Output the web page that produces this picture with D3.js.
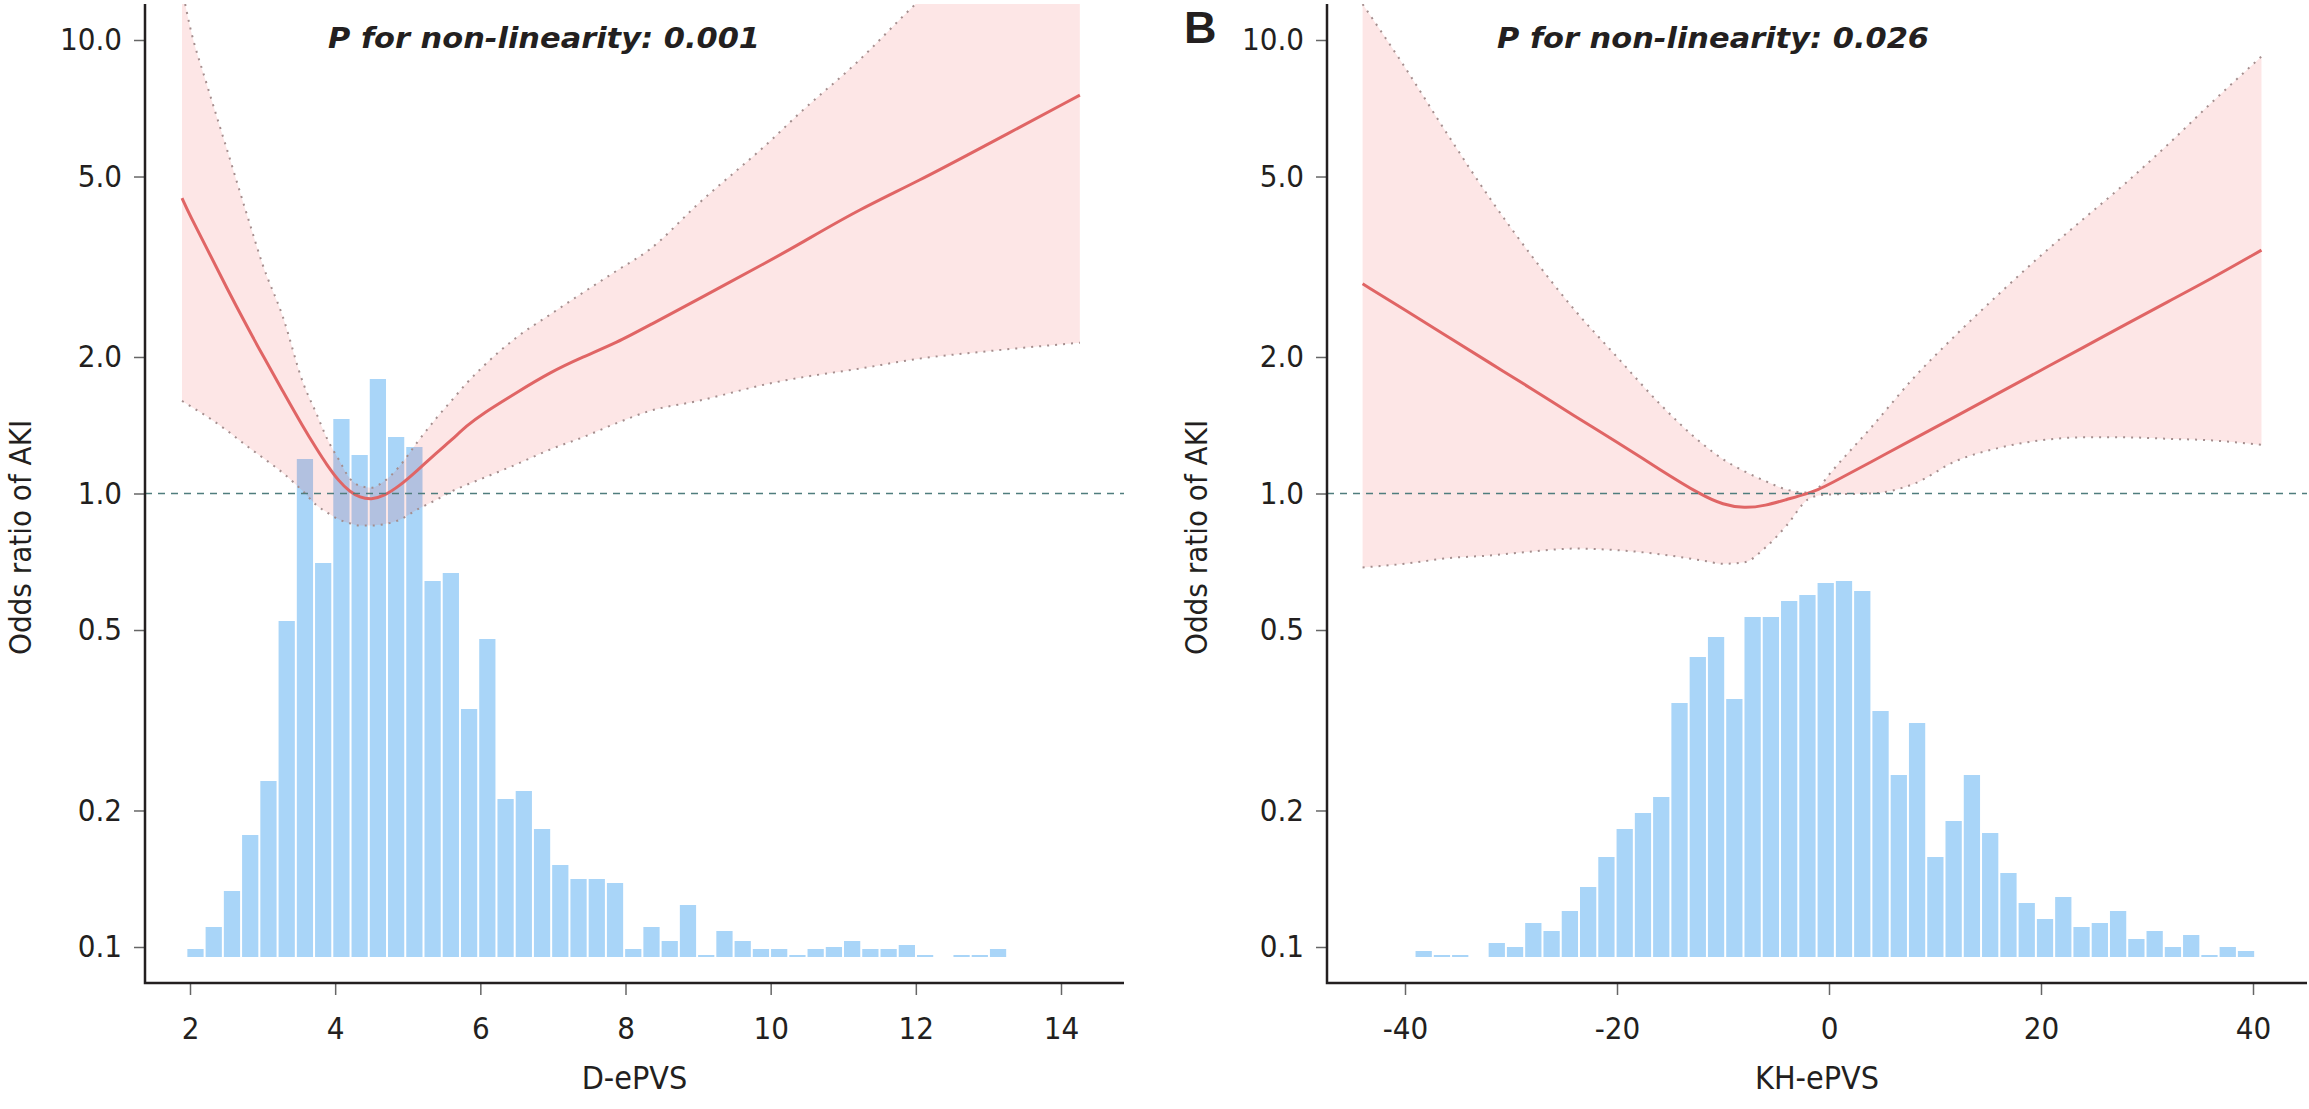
<!DOCTYPE html>
<html>
<head>
<meta charset="utf-8">
<script src="https://cdn.jsdelivr.net/npm/d3@7"></script>
<style>
  body { margin: 0; background: #fff; }
  text { font-family: "DejaVu Sans Condensed", "DejaVu Sans", sans-serif; fill: #231f20; }
</style>
</head>
<body>
<script>
const width = 2309;
const height = 1109;

// ---- Panel A: D-ePVS ----
const dGrid = [1.89, 2.0, 2.23, 2.5, 2.82, 3.0, 3.28, 3.56, 3.75, 3.88, 4.06, 4.2, 4.34, 4.5, 4.66, 4.89, 5.12, 5.4, 5.6, 5.81, 6.03, 6.5, 6.96, 7.41, 7.88, 8.33, 9, 10, 10.4, 11.18, 12.02, 13, 14.26];
const dFit = [4.48, 4.1, 3.48, 2.85, 2.28, 2.02, 1.68, 1.4, 1.25, 1.16, 1.06, 1.01, 0.98, 0.97, 0.985, 1.04, 1.12, 1.23, 1.31, 1.41, 1.5, 1.67, 1.85, 2.0, 2.15, 2.35, 2.68, 3.27, 3.55, 4.2, 4.87, 5.9, 7.56];
const dUpper = [13, 10.7, 8.0, 5.8, 3.95, 3.2, 2.45, 1.75, 1.49, 1.33, 1.18, 1.08, 1.04, 1.03, 1.06, 1.15, 1.29, 1.47, 1.6, 1.75, 1.9, 2.21, 2.48, 2.77, 3.1, 3.45, 4.35, 6.0, 6.9, 8.9, 12.1, 16.5, 25];
const dLower = [1.6, 1.56, 1.48, 1.38, 1.26, 1.2, 1.11, 1.01, 0.94, 0.91, 0.875, 0.86, 0.85, 0.85, 0.855, 0.875, 0.92, 0.97, 1.01, 1.045, 1.08, 1.16, 1.25, 1.33, 1.43, 1.52, 1.6, 1.75, 1.8, 1.88, 1.98, 2.06, 2.15];
const dBinStart = 1.95;
const dBinWidth = 0.2513;
const dCounts = [4, 15, 33, 61, 88, 168, 249, 197, 269, 251, 289, 260, 255, 188, 192, 124, 159, 79, 83, 64, 46, 39, 39, 37, 4, 15, 8, 26, 1, 13, 8, 4, 4, 1, 4, 5, 8, 4, 4, 6, 1, 0, 1, 1, 4];
const dTicks = [2, 4, 6, 8, 10, 12, 14];

// ---- Panel B: KH-ePVS ----
const kGrid = [-44, -40, -36, -32, -28, -24, -20, -16, -12, -10, -8, -6, -4, -2, -1, 0, 4, 8, 12, 16, 20, 24, 28, 32, 36, 40.8];
const kFit = [2.9, 2.54, 2.22, 1.94, 1.7, 1.48, 1.3, 1.13, 0.99, 0.945, 0.927, 0.94, 0.97, 1.0, 1.02, 1.047, 1.175, 1.32, 1.48, 1.665, 1.87, 2.1, 2.36, 2.65, 2.97, 3.44];
const kUpper = [12.0, 8.7, 6.2, 4.48, 3.33, 2.54, 2.0, 1.58, 1.29, 1.19, 1.12, 1.065, 1.02, 1.005, 1.03, 1.1, 1.4, 1.8, 2.24, 2.75, 3.35, 4.03, 4.84, 5.89, 7.24, 9.2];
const kLower = [0.687, 0.7, 0.72, 0.73, 0.745, 0.756, 0.75, 0.735, 0.712, 0.7, 0.705, 0.76, 0.85, 0.97, 0.99, 0.995, 1.0, 1.05, 1.18, 1.26, 1.31, 1.33, 1.33, 1.32, 1.31, 1.28];
const kBinStart = -39.1;
const kBinWidth = 1.724;
const kCounts = [3, 1, 1, 0, 7, 5, 17, 13, 23, 35, 50, 64, 72, 80, 127, 150, 160, 129, 170, 170, 178, 181, 187, 188, 183, 123, 91, 117, 50, 68, 91, 62, 42, 27, 19, 30, 15, 17, 23, 9, 13, 5, 11, 1, 5, 3];
const kTicks = [-40, -20, 0, 20, 40];

const yTicks = [0.1, 0.2, 0.5, 1, 2, 5, 10];

const svg = d3.select('body')
    .append('svg')
    .attr('width', width)
    .attr('height', height);

// shared log scale for odds ratio
const y = d3.scaleLog().domain([0.1, 10]).range([947, 40]);
const plotTop = 4;
const plotBottom = 983;
const histBase = y(0.1) + 10;
const hist = d3.scaleLinear().domain([0, 300]).range([histBase, histBase - 600]);

const panels = [
    { id: 'a', grid: dGrid, fit: dFit, hi: dUpper, lo: dLower, binStart: dBinStart, binWidth: dBinWidth,
      counts: dCounts, ticks: dTicks, xDomain: [2, 14], xRange: [190, 1061], left: 145, right: 1124,
      title: 'D-ePVS', pText: 'P for non-linearity: 0.001', pX: 328, yTitleX: 31, tag: null },
    { id: 'b', grid: kGrid, fit: kFit, hi: kUpper, lo: kLower, binStart: kBinStart, binWidth: kBinWidth,
      counts: kCounts, ticks: kTicks, xDomain: [-40, 40], xRange: [1405, 2253], left: 1327, right: 2307,
      title: 'KH-ePVS', pText: 'P for non-linearity: 0.026', pX: 1497, yTitleX: 1207, tag: 'B' }
];

panels.forEach(p => {
    const x = d3.scaleLinear().domain(p.xDomain).range(p.xRange);
    const g = svg.append('g');

    g.append('clipPath').attr('id', 'clip-' + p.id)
        .append('rect')
        .attr('x', p.left).attr('y', plotTop)
        .attr('width', p.right - p.left).attr('height', plotBottom - plotTop);

    const plot = g.append('g').attr('clip-path', `url(#clip-${p.id})`);

    // histogram
    plot.append('g')
        .selectAll('rect')
        .data(p.counts)
        .enter()
        .append('rect')
        .attr('x', (d, i) => x(p.binStart + i * p.binWidth) + 1)
        .attr('width', (d, i) => x(p.binStart + (i + 1) * p.binWidth) - x(p.binStart + i * p.binWidth) - 2)
        .attr('y', d => hist(d))
        .attr('height', d => histBase - hist(d))
        .attr('fill', '#a9d5f8');

    const pts = p.grid.map((v, i) => ({ x: v, fit: p.fit[i], hi: p.hi[i], lo: p.lo[i] }));

    // confidence band
    plot.append('path')
        .datum(pts)
        .attr('d', d3.area()
            .x(d => x(d.x))
            .y0(d => y(d.lo))
            .y1(d => y(d.hi))
            .curve(d3.curveMonotoneX))
        .attr('fill', '#f03c3c')
        .attr('fill-opacity', 0.13);

    ['hi', 'lo'].forEach(k => {
        plot.append('path')
            .datum(pts)
            .attr('d', d3.line().x(d => x(d.x)).y(d => y(d[k])).curve(d3.curveMonotoneX))
            .attr('fill', 'none')
            .attr('stroke', '#a48e8e')
            .attr('stroke-width', 2)
            .attr('stroke-dasharray', '2,6');
    });

    // reference line at OR = 1
    g.append('line')
        .attr('x1', p.left).attr('x2', p.right)
        .attr('y1', y(1)).attr('y2', y(1))
        .attr('stroke', '#4f7d7d')
        .attr('stroke-width', 1.6)
        .attr('stroke-dasharray', '7,6');

    // fitted curve
    plot.append('path')
        .datum(pts)
        .attr('d', d3.line().x(d => x(d.x)).y(d => y(d.fit)).curve(d3.curveBasis))
        .attr('fill', 'none')
        .attr('stroke', '#e06565')
        .attr('stroke-width', 3);

    // axes
    const yAxis = g.append('g')
        .attr('transform', `translate(${p.left},0)`)
        .call(d3.axisLeft(y).tickValues(yTicks).tickFormat(d3.format('.1f')).tickSize(11).tickPadding(12));
    yAxis.select('.domain').remove();
    yAxis.selectAll('line').attr('stroke', '#666').attr('stroke-width', 1.5);
    yAxis.selectAll('text').attr('font-size', 31).style('fill', '#231f20');

    const xAxis = g.append('g')
        .attr('transform', `translate(0,${plotBottom})`)
        .call(d3.axisBottom(x).tickValues(p.ticks).tickFormat(d => String(d)).tickSize(12).tickPadding(22));
    xAxis.select('.domain').remove();
    xAxis.selectAll('line').attr('stroke', '#666').attr('stroke-width', 1.5);
    xAxis.selectAll('text').attr('font-size', 31).style('fill', '#231f20');

    g.append('path')
        .attr('d', `M${p.left},${plotTop}V${plotBottom}H${p.right}`)
        .attr('fill', 'none')
        .attr('stroke', '#231f20')
        .attr('stroke-width', 2.5);

    // titles
    g.append('text')
        .attr('x', (p.left + p.right) / 2)
        .attr('y', 1089)
        .attr('text-anchor', 'middle')
        .attr('font-size', 32)
        .text(p.title);

    g.append('text')
        .attr('transform', `translate(${p.yTitleX},${y(0.8)}) rotate(-90)`)
        .attr('text-anchor', 'middle')
        .attr('font-size', 31)
        .text('Odds ratio of AKI');

    g.append('text')
        .attr('x', p.pX)
        .attr('y', 48)
        .attr('font-size', 28)
        .attr('font-weight', 'bold')
        .attr('font-style', 'italic')
        .attr('textLength', 432)
        .attr('lengthAdjust', 'spacingAndGlyphs')
        .text(p.pText);

    if (p.tag) {
        g.append('text')
            .attr('x', 1184)
            .attr('y', 43)
            .attr('font-size', 45)
            .attr('font-weight', 'bold')
            .style('font-family', '"Liberation Sans", Arial, sans-serif')
            .text(p.tag);
    }
});
</script>
</body>
</html>
